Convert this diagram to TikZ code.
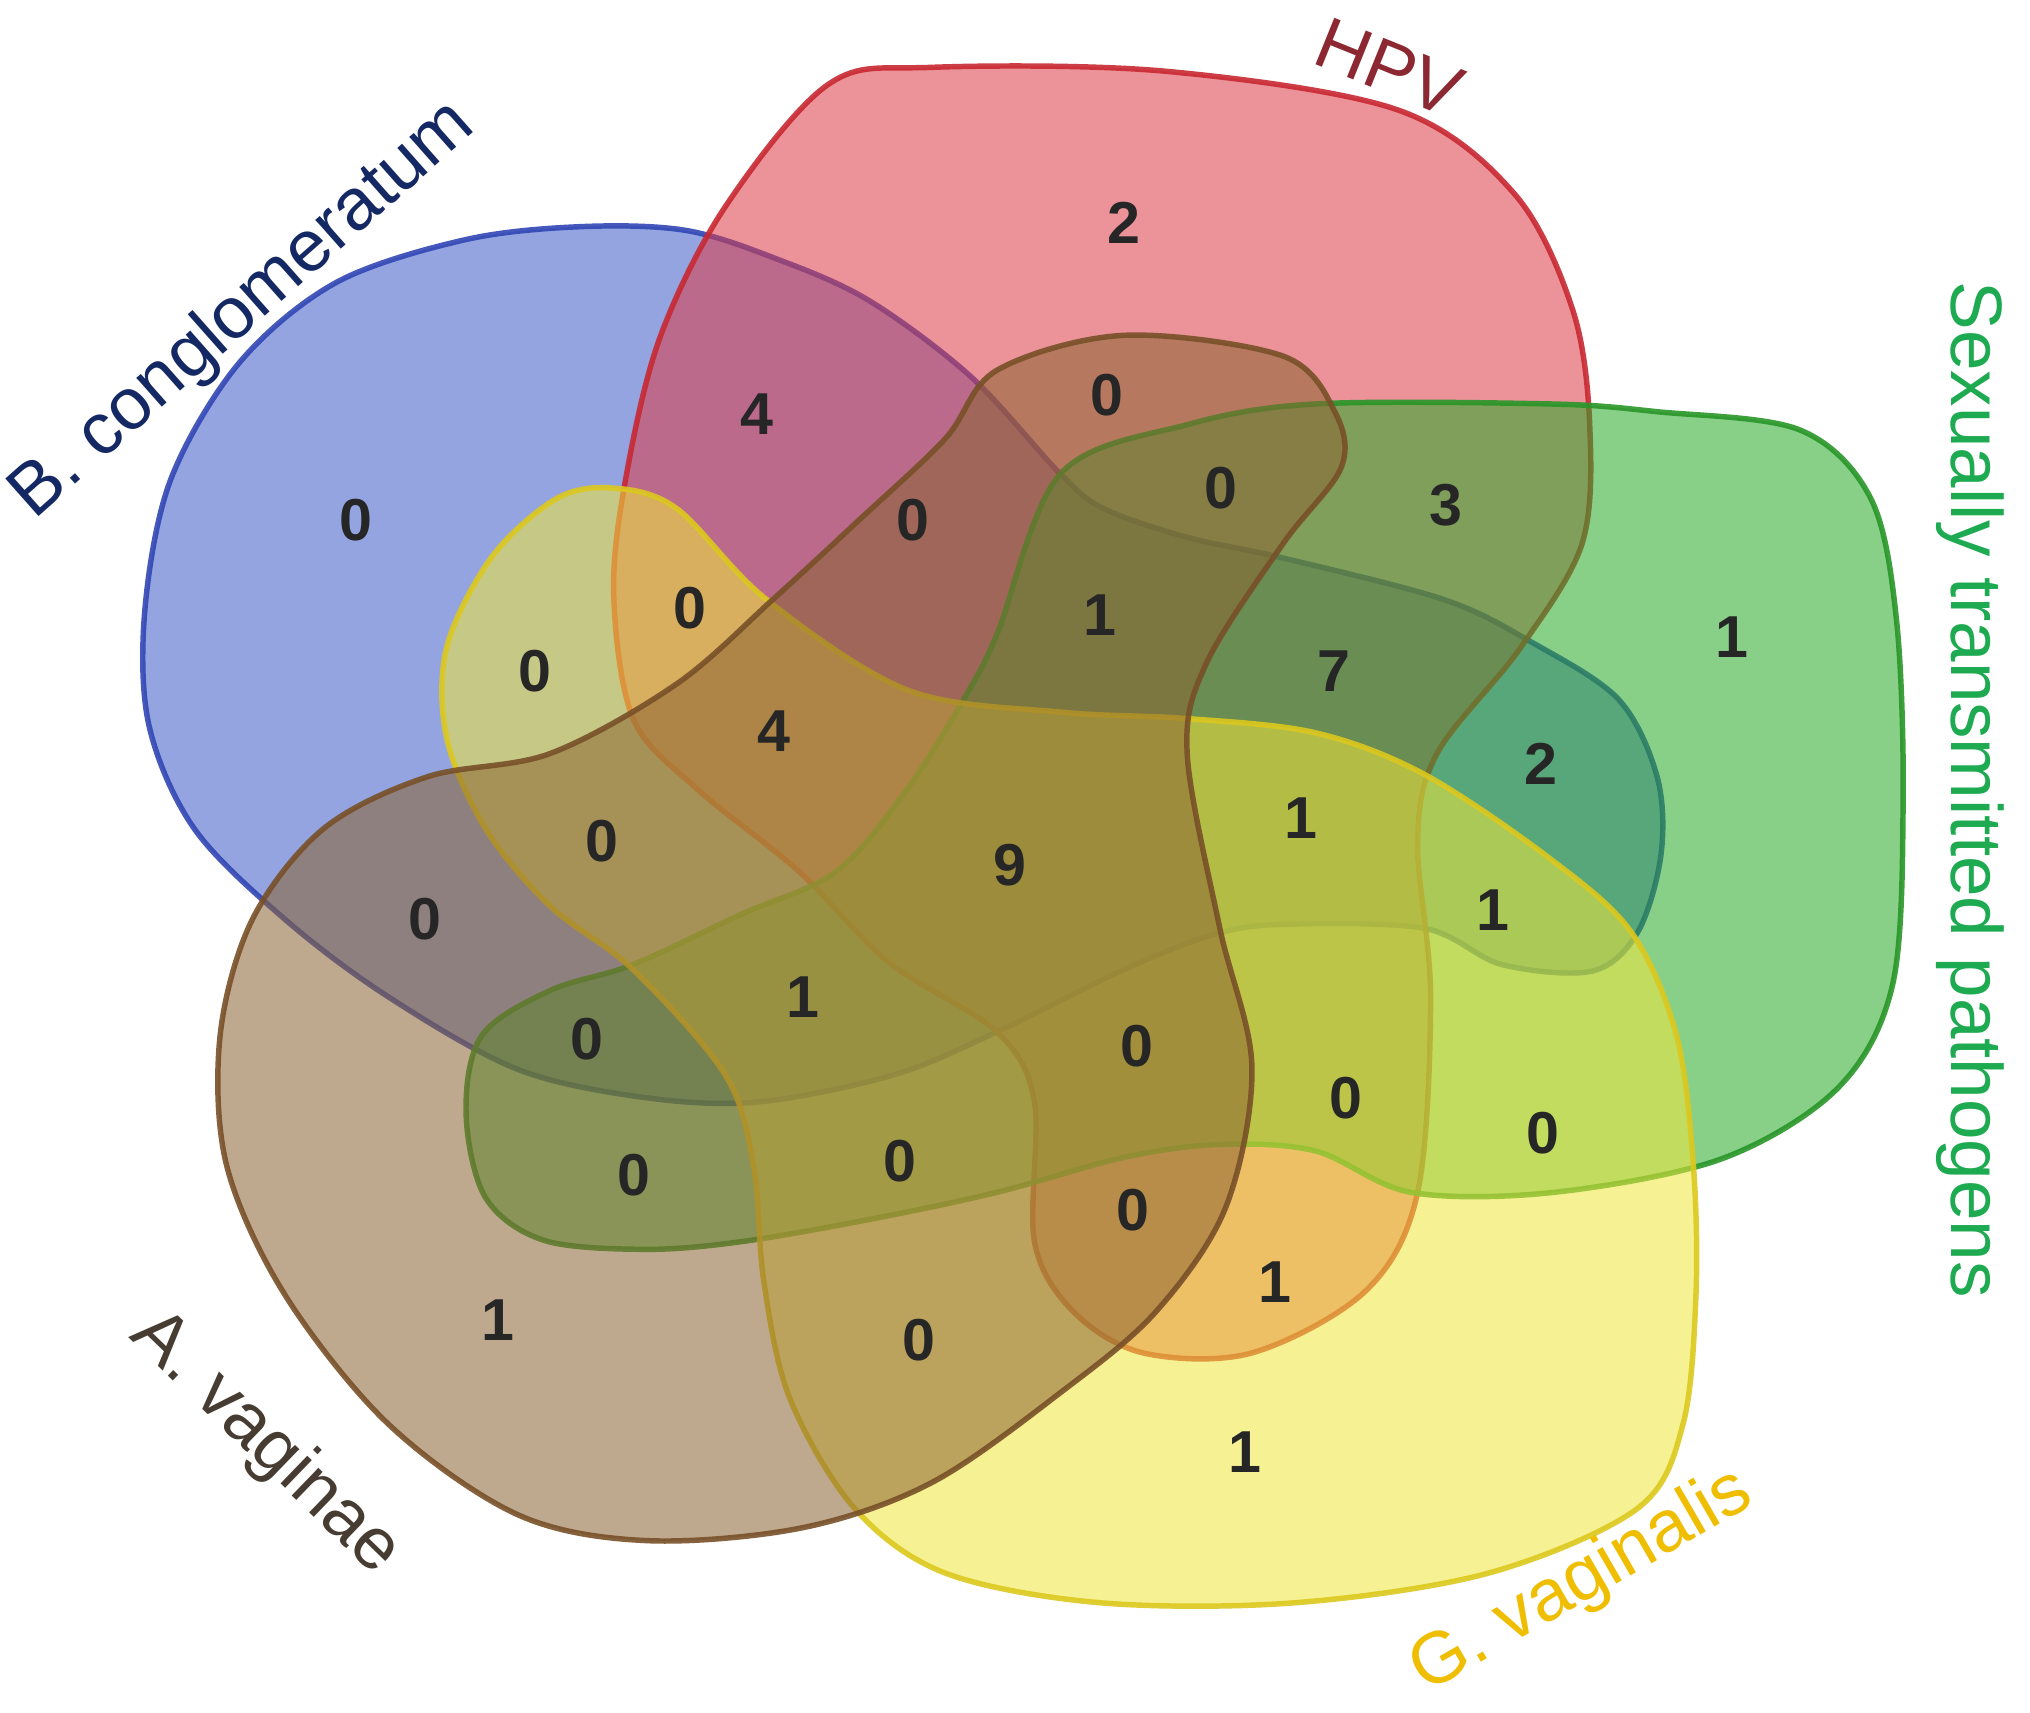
\documentclass[tikz,border=0pt]{standalone}
\usepackage{fontspec}
\setmainfont{Liberation Sans}
\begin{document}
\begin{tikzpicture}[x=0.01cm,y=-0.01cm,
  set/.style={line width=1.2pt,fill opacity=0.55,draw opacity=0.9},
  num/.style={font=\fontsize{13}{13}\selectfont\bfseries,text=black!85},
  lab/.style={font=\fontsize{16}{16}\selectfont}]
\definecolor{cb}{RGB}{60,90,200}\definecolor{cbd}{RGB}{50,70,180}
\definecolor{cr}{RGB}{220,60,70}\definecolor{crd}{RGB}{200,40,50}
\definecolor{cg}{RGB}{40,170,40}\definecolor{cgd}{RGB}{40,150,40}
\definecolor{cy}{RGB}{240,230,60}\definecolor{cyd}{RGB}{220,200,30}
\definecolor{cn}{RGB}{140,100,50}\definecolor{cnd}{RGB}{120,80,40}
\useasboundingbox (0,0) rectangle (1568,1323);
\fill[white] (0,0) rectangle (1568,1323);
% blue
\draw[set,draw=cbd,fill=cb] plot[smooth cycle,tension=0.55] coordinates {
(671,232)(750,291)(819,366)(853,393)(917,415)(991,431)(1115,463)(1183,496)(1250,540)(1280,600)(1283,660)(1265,720)(1230,750)(1160,745)(1100,717)(991,714)(937,722)(868,749)(770,797)(691,830)(587,851)(500,848)(400,826)(300,770)(220,710)(150,640)(115,560)(112,470)(132,370)(185,280)(260,218)(360,185)(450,175)(530,178)(600,200)};
% red
\draw[set,draw=crd,fill=cr] plot[smooth cycle,tension=0.55] coordinates {
(640,65)(720,52)(900,55)(1080,85)(1170,150)(1215,240)(1228,330)(1222,420)(1174,501)(1110,582)(1095,650)(1105,770)(1095,921)(1055,997)(967,1045)(883,1045)(829,1013)(799,959)(799,851)(770,797)(686,743)(617,673)(538,609)(489,555)(474,458)(484,366)(510,260)(560,160)};
% green
\draw[set,draw=cgd,fill=cg] plot[smooth cycle,tension=0.55] coordinates {
(819,366)(917,328)(1016,312)(1197,312)(1280,318)(1390,332)(1445,385)(1465,480)(1470,620)(1462,760)(1420,840)(1330,895)(1200,921)(1090,921)(1016,889)(942,884)(868,894)(770,921)(671,942)(573,959)(499,965)(420,958)(375,925)(360,860)(372,800)(425,765)(489,745)(573,706)(646,673)(701,609)(745,539)(770,490)};
% yellow
\draw[set,draw=cyd,fill=cy] plot[smooth cycle,tension=0.55] coordinates {
(474,377)(523,393)(592,463)(701,533)(819,550)(917,555)(1016,566)(1100,598)(1197,663)(1260,720)(1295,800)(1308,900)(1310,1000)(1300,1100)(1265,1165)(1150,1215)(1000,1238)(850,1238)(730,1215)(660,1165)(610,1080)(590,990)(582,900)(560,830)(489,749)(425,700)(375,640)(345,570)(345,500)(380,430)(430,385)};
% brown
\draw[set,draw=cnd,fill=cn] plot[smooth cycle,tension=0.55] coordinates {
(893,1013)(947,932)(967,824)(942,716)(917,582)(932,512)(991,420)(1036,361)(1031,318)(991,275)(868,259)(770,286)(730,339)(661,404)(597,463)(523,528)(425,582)(330,600)(250,640)(195,710)(170,800)(175,900)(220,1000)(300,1100)(400,1170)(500,1190)(620,1180)(720,1145)(820,1075)};
% numbers
\foreach \p/\t [count=\i] in {
(868,172)/2,(585,320)/4,(855,305)/0,(275,402)/0,(705,402)/0,(943,377)/0,(1117,390)/3,(533,470)/0,(850,475)/1,(1338,492)/1,(413,518)/0,(1030,518)/7,(598,565)/4,(1190,590)/2,(1005,632)/1,(465,650)/0,(780,668)/9,(328,710)/0,(1153,703)/1,(620,770)/1,(453,803)/0,(878,808)/0,(1040,848)/0,(1192,875)/0,(490,908)/0,(695,897)/0,(875,935)/0,(985,990)/1,(385,1020)/1,(710,1035)/0,(962,1122)/1}
  \node[num] (n\i) at \p {\t};
% labels
\node[lab,text={rgb,255:red,140;green,40;blue,50},rotate=-22] (lhpv) at (1073,52) {HPV};
\node[lab,text={rgb,255:red,20;green,40;blue,100},rotate=41.5] (lb) at (188,240) {B. conglomeratum};
\node[lab,text={rgb,255:red,30;green,170;blue,80},rotate=-90] (ls) at (1522,610) {Sexually transmitted pathogens};
\node[lab,text={rgb,255:red,70;green,60;blue,50},rotate=-44] (la) at (205,1115) {A. vaginae};
\node[lab,text={rgb,255:red,240;green,190;blue,0},rotate=30] (lg) at (1222,1222) {G. vaginalis};
\end{tikzpicture}
\end{document}
